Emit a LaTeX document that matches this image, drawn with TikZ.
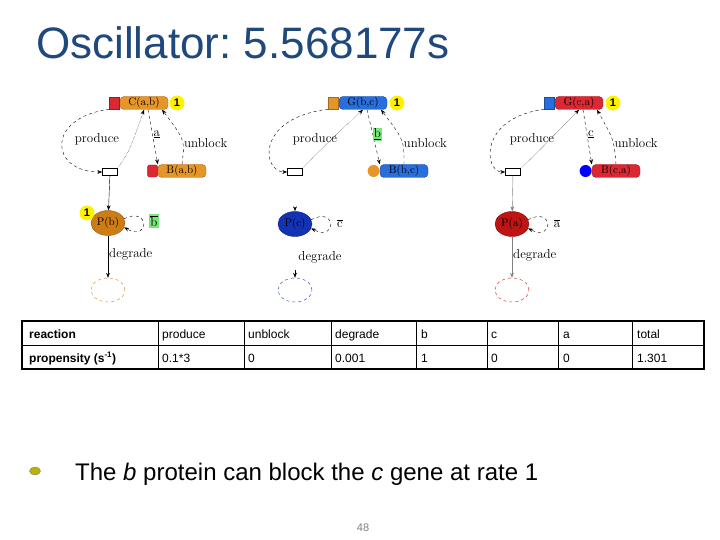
\documentclass[tikz,border=0pt]{standalone}
\usepackage{fontspec}
\setmainfont{Liberation Sans}
\newfontfamily\lmr{Latin Modern Roman}
\usetikzlibrary{arrows.meta,shapes.geometric}
\frenchspacing
\definecolor{ttl}{RGB}{31,73,125}
\definecolor{gor}{RGB}{230,150,40}
\definecolor{gbl}{RGB}{40,110,220}
\definecolor{grd}{RGB}{220,40,50}
\definecolor{pbr}{RGB}{205,125,20}
\definecolor{pbl}{RGB}{20,50,180}
\definecolor{prd}{RGB}{190,20,20}
\definecolor{lgreen}{RGB}{120,230,120}
\newcommand\ovl[1]{$\overline{\hbox{#1}}$}
\tikzset{
 lbl/.style={font=\lmr\fontsize{13}{13}\selectfont,inner sep=1pt},
 gene/.style={rounded corners=4pt,fill=#1,draw=#1!70!black,thin,minimum height=12pt,minimum width=48pt,inner sep=1pt,font=\lmr\fontsize{11}{11}\selectfont},
 endp/.style={fill=#1,draw=#1!70!black,thin,minimum width=10pt,minimum height=12pt,inner sep=0pt},
 one/.style={circle,fill=yellow,inner sep=0pt,minimum size=15pt,font=\bfseries\fontsize{11}{11}\selectfont},
 trans/.style={draw,fill=white,minimum width=15pt,minimum height=7pt,inner sep=0pt},
 prot/.style={ellipse,fill=#1,draw=#1!70!black,minimum width=34pt,minimum height=25pt,inner sep=0pt,font=\lmr\fontsize{11}{11}\selectfont},
 sink/.style={ellipse,draw=#1,dashed,minimum width=34pt,minimum height=24pt},
 da/.style={dashed,-{Stealth[length=5pt]},thin},
 sa/.style={-{Stealth[length=5pt]},thin},
 cell/.style={font=\fontsize{12}{12}\selectfont,anchor=base west,inner sep=0pt},
}
\begin{document}
\begin{tikzpicture}[x=1pt,y=-1pt]
\useasboundingbox (0,0) rectangle (720,540);
\node[anchor=base west,text=ttl,font=\fontsize{44}{44}\selectfont,inner sep=0pt] (title) at (36,59) {Oscillator: 5.568177s};

% module 1
\begin{scope}[name prefix=m1-]
\node[gene=gor] (g) at (144,103) {C(a,b)};
\node[endp=grd,anchor=east] (ge) at (g.west) {};
\node[one] (o) at (177,103) {1};
\node[trans] (t) at (110,172) {};
\node[gene=gor] (b) at (182,171) {B(a,b)};
\node[endp=grd,anchor=east,rounded corners=2pt] (be) at (b.west) {};
\node[prot=pbr] (p) at (108,223) {P(b)};
\node[one] (o2) at (87,213) {1};
\node[sink=pbr] (s) at (108,290) {};
\node[lbl,fill=lgreen] (x) at (154,221) {\ovl{b}};
\draw[da] (ge.south west) .. controls (45,118) and (50,172) .. (t.west);
\node[lbl,fill=white] (pl) at (97,139) {produce};
\draw[da,densely dotted] (t.north east) .. controls (130,150) .. (g.south);
\draw[da] ([xshift=4pt]g.south) -- node[lbl,right,pos=0.45] {\underline{a}} (b.north west);
\draw[da] (b.north) .. controls (185,140) .. node[lbl,right,pos=0.4] {unblock} ([xshift=18pt]g.south);
\draw[sa] (t) -- (p);
\draw[da] (p.15) .. controls (150,206) and (150,242) .. (p.-15);
\draw[sa] (p) -- node[lbl,right,pos=0.45] {degrade} (s);
\end{scope}

% module 2
\begin{scope}[name prefix=m2-]
\node[gene=gbl] (g) at (363,103) {G(b,c)};
\node[endp=gor,anchor=east] (ge) at (g.west) {};
\node[one] (o) at (397,103) {1};
\node[trans] (t) at (295,172) {};
\node[gene=gbl] (b) at (404,171) {B(b,c)};
\node[circle,fill=gor,inner sep=0pt,minimum size=12pt,anchor=east] (be) at (b.west) {};
\node[prot=pbl] (p) at (295,224) {P(c)};
\node[sink=pbl] (s) at (295,290) {};
\node[lbl] (x) at (340,224) {\ovl{c}};
\draw[da] (ge.south west) .. controls (255,118) and (262,172) .. (t.west);
\node[lbl,fill=white] (pl) at (315,139) {produce};
\draw[da,densely dotted] (t.north east) .. controls (320,150) .. (g.south);
\draw[da] ([xshift=4pt]g.south) -- node[lbl,right,pos=0.45,fill=lgreen] {\underline{b}} (b.north west);
\draw[da] (b.north) .. controls (404,140) .. node[lbl,right,pos=0.4] {unblock} ([xshift=18pt]g.south);
\coordinate (ta) at (295,205);
\draw[sa] ([yshift=-4pt]ta) -- (p);
\draw[da] (p.15) .. controls (337,206) and (337,242) .. (p.-15);
\node[lbl] (dg) at (320,257) {degrade};
\draw[sa] (295,270) -- (s);
\end{scope}

% module 3
\begin{scope}[name prefix=m3-]
\node[gene=grd] (g) at (579,103) {G(c,a)};
\node[endp=gbl,anchor=east] (ge) at (g.west) {};
\node[one] (o) at (613,103) {1};
\node[trans] (t) at (513,172) {};
\node[gene=grd] (b) at (616,171) {B(c,a)};
\node[circle,fill=blue,inner sep=0pt,minimum size=12pt,anchor=east] (be) at (b.west) {};
\node[prot=prd] (p) at (512,224) {P(a)};
\node[sink=prd] (s) at (512,290) {};
\node[lbl] (x) at (557,224) {\ovl{a}};
\draw[da] (ge.south west) .. controls (478,118) and (484,172) .. (t.west);
\node[lbl,fill=white] (pl) at (532,139) {produce};
\draw[da,densely dotted] (t.north east) .. controls (540,150) .. (g.south);
\draw[da] ([xshift=4pt]g.south) -- node[lbl,right,pos=0.45] {\underline{c}} (b.north west);
\draw[da] (b.north) .. controls (614,140) .. node[lbl,right,pos=0.4] {unblock} ([xshift=18pt]g.south);
\draw[sa,gray] (t) -- (p);
\draw[da] (p.15) .. controls (554,206) and (554,242) .. (p.-15);
\draw[sa,gray] (p) -- node[lbl,right,pos=0.45,text=black] {degrade} (s);
\end{scope}

% table
\draw[line width=1.2pt] (22,321) rectangle (704,369);
\draw (22,345) -- (704,345);
\foreach \x in {158,244,331,416,487,558,632} \draw (\x,321) -- (\x,369);
\node[cell,font=\bfseries\fontsize{12}{12}\selectfont] (r1) at (29,338) {reaction};
\node[cell,font=\bfseries\fontsize{12}{12}\selectfont] (r2) at (29,362) {propensity (s\textsuperscript{-1})};
\node[cell] (c1) at (162,338) {produce};
\node[cell] (c2) at (248,338) {unblock};
\node[cell] (c3) at (335,338) {degrade};
\node[cell] (c4) at (421,338) {b};
\node[cell] (c5) at (491,338) {c};
\node[cell] (c6) at (563,338) {a};
\node[cell] (c7) at (637,338) {total};
\node[cell] (d1) at (162,362) {0.1*3};
\node[cell] (d2) at (248,362) {0};
\node[cell] (d3) at (335,362) {0.001};
\node[cell] (d4) at (421,362) {1};
\node[cell] (d5) at (491,362) {0};
\node[cell] (d6) at (563,362) {0};
\node[cell] (d7) at (637,362) {1.301};

% bullet and text
\node[ellipse,fill=olive!60!yellow,draw=gray,minimum width=11pt,minimum height=8pt,inner sep=0pt] (bul) at (35,471) {};
\node[anchor=base west,font=\fontsize{24}{24}\selectfont,inner sep=0pt] (txt) at (75,480) {The \textit{b} protein can block the \textit{c} gene at rate 1};
\node[text=gray,font=\fontsize{11}{11}\selectfont] (pg) at (363,528) {48};
\end{tikzpicture}
\end{document}
